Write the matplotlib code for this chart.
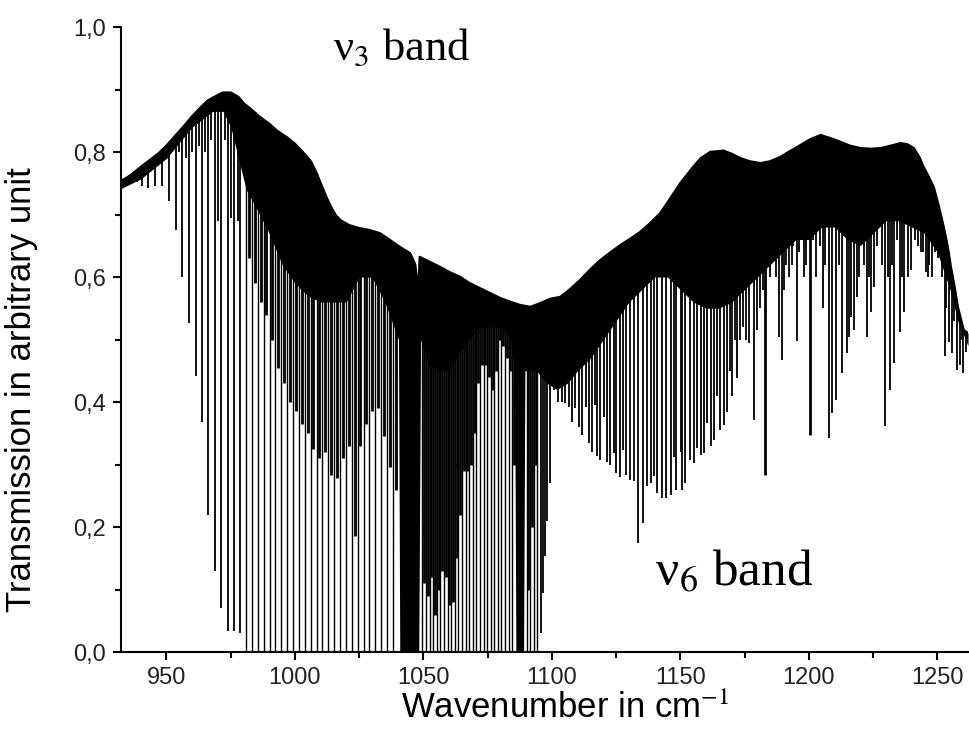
import numpy as np
import matplotlib
matplotlib.use('Agg')
import matplotlib.pyplot as plt
from matplotlib.ticker import MultipleLocator, FuncFormatter

# upper envelope of the spectrum
env_x = [932.5, 935, 937, 940, 943.5, 947, 950, 953, 956.5, 960, 963, 966, 969.5, 972, 975, 978,
         980, 983, 986, 990, 993, 997, 1000, 1003, 1006, 1008, 1010, 1012, 1014, 1016, 1018,
         1021, 1025, 1029, 1033, 1036, 1039, 1042, 1044.8, 1046.8, 1047.6, 1048.1, 1048.6,
         1052, 1056.5, 1060, 1064.3, 1068, 1072, 1076, 1080, 1084, 1087.7, 1091.6, 1095.5,
         1099.4, 1103.3, 1107, 1111, 1115, 1118.9, 1123, 1126.7, 1130.5, 1134.4, 1138, 1142.2,
         1146, 1150, 1155, 1158, 1161.7, 1166.8, 1170, 1173.4, 1177, 1181.2, 1185, 1189, 1193,
         1196.8, 1200.5, 1204.6, 1208.5, 1212.4, 1216, 1220.2, 1224, 1228, 1232, 1235.8,
         1238.5, 1240.9, 1243, 1244.7, 1246.7, 1248.6, 1250.5, 1252.5, 1254, 1255.3, 1256.7,
         1258, 1260.3, 1262]
env_y = [0.754, 0.76, 0.766, 0.776, 0.787, 0.798, 0.81, 0.824, 0.84, 0.857, 0.87, 0.882, 0.89,
         0.895, 0.895, 0.888, 0.878, 0.868, 0.857, 0.845, 0.834, 0.823, 0.813, 0.80, 0.786,
         0.77, 0.75, 0.73, 0.712, 0.698, 0.69, 0.683, 0.678, 0.675, 0.67, 0.662, 0.653, 0.645,
         0.638, 0.62, 0.59, 0.58, 0.632, 0.625, 0.616, 0.608, 0.6, 0.59, 0.582, 0.574, 0.566,
         0.56, 0.555, 0.552, 0.558, 0.565, 0.568, 0.58, 0.595, 0.612, 0.627, 0.64, 0.651,
         0.661, 0.672, 0.685, 0.702, 0.725, 0.75, 0.776, 0.79, 0.8, 0.802, 0.797, 0.79,
         0.785, 0.782, 0.785, 0.792, 0.802, 0.811, 0.82, 0.827, 0.822, 0.816, 0.81, 0.806,
         0.805, 0.806, 0.81, 0.814, 0.812, 0.806, 0.792, 0.776, 0.76, 0.744, 0.715, 0.68,
         0.65, 0.616, 0.585, 0.552, 0.515, 0.51]

# lower edge of the region where the lines merge into solid black
solid_x = [932.5, 940, 950, 960, 968, 972, 975, 978, 981, 985, 990, 995, 1000, 1005, 1010, 1015,
           1020, 1025, 1030, 1035, 1040.3, 1040.8, 1048.2, 1048.9, 1052, 1056, 1060, 1064, 1068,
           1072, 1076, 1080, 1084, 1085.5, 1086, 1089, 1089.5, 1091, 1094, 1098, 1102, 1106,
           1110, 1115, 1120, 1125, 1130, 1135, 1140, 1145, 1150, 1155, 1160, 1165, 1170, 1175,
           1180, 1185, 1190, 1195, 1200, 1205, 1210, 1215, 1220, 1225, 1230, 1235, 1240, 1245,
           1250, 1255, 1258, 1262]
solid_y = [0.742, 0.757, 0.79, 0.84, 0.865, 0.865, 0.84, 0.79, 0.74, 0.71, 0.67, 0.62, 0.59, 0.57,
           0.56, 0.56, 0.56, 0.6, 0.6, 0.56, 0.5, 0.0, 0.0, 0.5, 0.46, 0.45, 0.45, 0.48, 0.5,
           0.52, 0.52, 0.52, 0.5, 0.45, 0.0, 0.0, 0.45, 0.45, 0.45, 0.43, 0.42, 0.43,
           0.45, 0.47, 0.5, 0.53, 0.56, 0.58, 0.6, 0.6, 0.58, 0.56, 0.55, 0.55, 0.56, 0.58,
           0.6, 0.62, 0.64, 0.66, 0.66, 0.68, 0.68, 0.66, 0.65, 0.67, 0.69, 0.69, 0.68, 0.67,
           0.64, 0.58, 0.53, 0.49]

# lines that reach the baseline
sat_x = [980.9, 983.2, 985.5, 987.8, 990.1, 992.4, 994.6, 996.9, 999.2, 1001.5, 1003.8, 1006.1,
         1008.4, 1010.7, 1013.0, 1015.2, 1017.5, 1019.8, 1022.1, 1024.4, 1026.7, 1029.0, 1031.3,
         1033.6, 1035.8, 1038.1, 1049.6, 1051.0, 1052.4, 1053.8, 1055.2, 1056.6, 1058.0, 1059.4,
         1060.8, 1062.2, 1063.6, 1065.0, 1066.4, 1067.8, 1069.2, 1070.6, 1072.0, 1073.4, 1074.8,
         1076.2, 1077.6, 1079.0, 1080.4, 1081.8, 1083.2, 1084.6, 1090.2, 1091.6, 1093.0, 1094.4]

# single lines with their minimum transmission
line_x = [934.4, 936.4, 938.5, 940.3, 942.9, 945.5, 948.1, 950.9, 953.6, 954.8, 956.2, 957.5,
          958.8, 960.0, 961.4, 962.7, 964.0, 965.0, 966.2, 967.5, 968.8, 970.0, 971.4, 972.6,
          973.8, 975.1, 976.4, 977.7, 978.6,
          1095.7, 1096.4, 1097.2, 1098.1, 1099.4, 1100.7, 1102.3, 1103.9, 1105.2, 1106.5, 1107.8,
          1109.1, 1110.4, 1111.7, 1113.4, 1114.3, 1115.6, 1116.9, 1117.6, 1118.9, 1120.2, 1121.5,
          1122.8, 1124.1, 1125.1, 1126.4, 1127.7, 1129.0, 1130.3, 1131.9, 1133.7, 1135.5, 1137.1,
          1138.4, 1139.7, 1141.0, 1142.9, 1144.6, 1146.2, 1147.5, 1148.5, 1150.1, 1150.7, 1152.0,
          1153.7, 1155.3, 1156.6, 1157.9, 1159.2, 1160.5, 1161.8, 1163.1, 1164.3, 1165.6, 1166.9,
          1168.2, 1169.2, 1170.1, 1171.1, 1172.1, 1173.4, 1174.6, 1175.6, 1176.6, 1178.6, 1179.9,
          1181.2, 1182.0, 1184.2, 1185.0, 1186.5, 1187.3, 1188.3, 1189.6, 1190.3, 1191.0, 1192.5,
          1193.3, 1194.0, 1195.5, 1196.2, 1197.0, 1198.0, 1199.0, 1201.5, 1202.0, 1203.0, 1204.3,
          1205.5, 1206.5, 1207.8, 1209.1, 1210.8, 1211.8, 1213.0, 1214.7, 1215.6, 1216.6, 1217.6,
          1218.6, 1219.5, 1220.6, 1221.5, 1222.5, 1223.3, 1224.1, 1225.4, 1226.6, 1227.8, 1228.6,
          1229.7, 1230.7, 1231.6, 1232.4, 1233.2, 1234.2, 1235.4, 1236.3, 1237.1, 1238.5, 1239.9,
          1241.2, 1242.5, 1243.8, 1244.5, 1245.5, 1246.3, 1247.0, 1248.0, 1249.0, 1250.5, 1251.7,
          1252.9, 1253.6, 1254.4, 1255.9, 1256.7, 1257.6, 1258.9, 1259.5, 1260.2, 1261.2]
line_y = [0.745, 0.75, 0.752, 0.745, 0.742, 0.745, 0.745, 0.722, 0.675, 0.80, 0.60, 0.79,
          0.527, 0.80, 0.442, 0.81, 0.368, 0.80, 0.22, 0.82, 0.129, 0.69, 0.071, 0.82,
          0.034, 0.695, 0.034, 0.69, 0.03,
          0.03, 0.094, 0.153, 0.21, 0.27, 0.419, 0.40, 0.40, 0.398, 0.392, 0.368,
          0.39, 0.36, 0.347, 0.392, 0.334, 0.32, 0.395, 0.313, 0.307, 0.376, 0.304,
          0.299, 0.318, 0.286, 0.28, 0.323, 0.283, 0.275, 0.273, 0.174, 0.206, 0.265,
          0.27, 0.281, 0.254, 0.246, 0.246, 0.251, 0.312, 0.259, 0.32, 0.259, 0.27,
          0.307, 0.302, 0.326, 0.315, 0.318, 0.366, 0.329, 0.339, 0.41, 0.355, 0.363,
          0.384, 0.45, 0.41, 0.5, 0.438, 0.5, 0.52, 0.5, 0.494, 0.371, 0.515,
          0.55, 0.58, 0.62, 0.6, 0.64, 0.6, 0.504, 0.467, 0.58, 0.62, 0.6,
          0.62, 0.65, 0.497, 0.64, 0.7, 0.6, 0.62, 0.66, 0.7, 0.6, 0.65,
          0.55, 0.62, 0.342, 0.382, 0.403, 0.62, 0.446, 0.478, 0.504, 0.536, 0.515,
          0.568, 0.6, 0.66, 0.62, 0.504, 0.6, 0.544, 0.584, 0.65, 0.7, 0.62,
          0.361, 0.6, 0.419, 0.62, 0.462, 0.66, 0.512, 0.6, 0.544, 0.6, 0.611,
          0.66, 0.65, 0.64, 0.64, 0.608, 0.6, 0.62, 0.6, 0.64, 0.63, 0.6,
          0.473, 0.55, 0.496, 0.478, 0.53, 0.451, 0.459, 0.5, 0.446, 0.48]

# clusters of lines, drawn wider
lump_x = [982.0, 984.3, 986.6, 988.9, 991.2, 993.5, 995.8, 998.0, 1000.3, 1002.6, 1004.9, 1007.2,
          1009.5, 1011.8, 1014.1, 1016.4, 1018.7, 1021.0, 1023.2, 1025.5, 1027.8, 1030.1, 1032.4,
          1034.7, 1037.0, 1039.3, 1050.3, 1051.7, 1053.1, 1054.5, 1055.9, 1057.3, 1058.7, 1060.1,
          1061.5, 1062.9, 1064.3, 1065.7, 1067.1, 1068.5, 1069.9, 1071.3, 1072.7, 1074.1, 1075.5,
          1076.9, 1078.3, 1079.7, 1081.1, 1082.5, 1083.9, 1085.3, 1090.9, 1092.3, 1093.7,
          1183.1, 1200.4]
lump_y = [0.63, 0.59, 0.56, 0.54, 0.50, 0.455, 0.43, 0.40, 0.385, 0.365, 0.35, 0.325,
          0.31, 0.32, 0.283, 0.278, 0.31, 0.33, 0.185, 0.33, 0.365, 0.385, 0.39,
          0.345, 0.296, 0.26, 0.11, 0.09, 0.12, 0.06, 0.1, 0.13, 0.12, 0.075,
          0.08, 0.15, 0.22, 0.29, 0.29, 0.3, 0.35, 0.43, 0.46, 0.46, 0.44,
          0.42, 0.45, 0.5, 0.49, 0.47, 0.45, 0.3, 0.1, 0.2, 0.3,
          0.283, 0.347]

y_ticks = [0.0, 0.2, 0.4, 0.6, 0.8, 1.0]
x_ticks = [950, 1000, 1050, 1100, 1150, 1200, 1250]

plt.rcParams['mathtext.fontset'] = 'stix'
sans = ['Liberation Sans', 'DejaVu Sans']

fig = plt.figure(figsize=(9.69, 7.4), dpi=100)
ax = fig.add_axes([0.1249, 0.1189, 0.8741, 0.8446])

grid = np.union1d(env_x, solid_x)
ax.fill_between(grid, np.interp(grid, solid_x, solid_y), np.interp(grid, env_x, env_y),
                color='black', lw=0)
ax.plot(env_x, env_y, color='black', lw=1.8)
ax.vlines(sat_x, 0.0, np.interp(sat_x, env_x, env_y), color='black', lw=1.0)
ax.vlines(line_x, line_y, np.interp(line_x, env_x, env_y), color='black', lw=1.3)
ax.vlines(lump_x, lump_y, np.interp(lump_x, env_x, env_y), color='black', lw=2.0)

ax.text(1014.8, 0.947, 'ν$_3$ band', family='Liberation Serif', fontsize=32, va='baseline')
ax.text(1140.3, 0.107, 'ν$_6$ band', family='Liberation Serif', fontsize=37, va='baseline')

ax.set_xlim(932.3, 1262)
ax.set_ylim(0, 1.0)
ax.spines['top'].set_visible(False)
ax.spines['right'].set_visible(False)
for s in ['left', 'bottom']:
    ax.spines[s].set_linewidth(1.5)

ax.set_xticks(x_ticks)
ax.set_yticks(y_ticks)
ax.xaxis.set_minor_locator(MultipleLocator(25))
ax.yaxis.set_minor_locator(MultipleLocator(0.1))
ax.yaxis.set_major_formatter(FuncFormatter(lambda v, p: f'{v:.1f}'.replace('.', ',')))
ax.tick_params(which='major', direction='out', length=6, width=1.5, labelsize=17, pad=5)
ax.tick_params(which='minor', direction='out', length=4, width=1.5)
for lab in ax.get_xticklabels() + ax.get_yticklabels():
    lab.set_family(sans)
    lab.set_color('#222222')

ax.set_xlabel('Wavenumber in cm$^{-1}$', family=sans, fontsize=25)
ax.xaxis.label.set_va('baseline')
ax.xaxis.set_label_coords(0.524, -0.106)
ax.set_ylabel('Transmission in arbitrary unit', family=sans, fontsize=25)
ax.yaxis.set_label_coords(-0.098, 0.42)

fig.savefig('out.png', dpi=100)
